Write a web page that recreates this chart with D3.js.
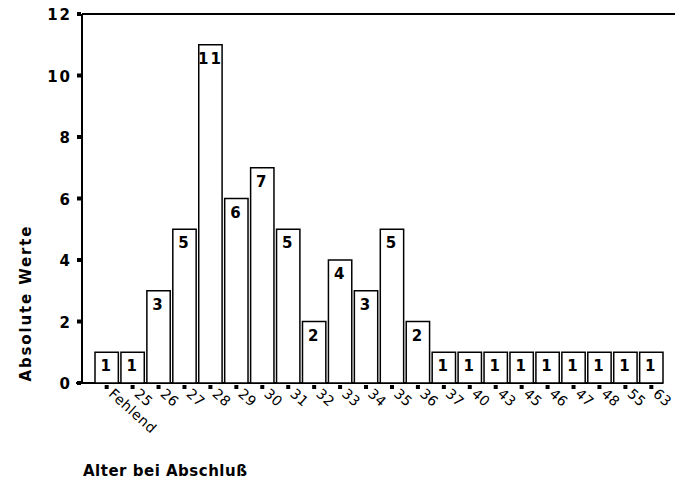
<!DOCTYPE html>
<html><head><meta charset="utf-8">
<script src="https://cdn.jsdelivr.net/npm/d3@7"></script>
<style>body{margin:0;background:#fff}svg text{font-family:"DejaVu Sans",sans-serif}</style>
</head><body><svg id="chart" width="675" height="481"></svg>
<script>
var categories = ["Fehlend","25","26","27","28","29","30","31","32","33","34","35","36","37","40","43","45","46","47","48","55","63"];
var counts = [1,1,3,5,11,6,7,5,2,4,3,5,2,1,1,1,1,1,1,1,1,1];
var yTicks = [0,2,4,6,8,10,12];

var svg = d3.select("#chart");
var plotLeft = 82, plotTop = 14, plotBottom = 383;

var x = d3.scaleBand().domain(categories).range([95, 663]).paddingInner(0.1);
var y = d3.scaleLinear().domain([0,12]).range([plotBottom, plotTop]);

// frame
svg.append("line").attr("x1",plotLeft).attr("x2",plotLeft).attr("y1",plotTop).attr("y2",plotBottom).attr("stroke","#000").attr("stroke-width",2);
svg.append("line").attr("x1",plotLeft).attr("x2",675).attr("y1",plotTop).attr("y2",plotTop).attr("stroke","#000").attr("stroke-width",2);
svg.append("line").attr("x1",76).attr("x2",x.range()[1]).attr("y1",plotBottom).attr("y2",plotBottom).attr("stroke","#000").attr("stroke-width",2);

// y ticks
var yg = svg.append("g");
yg.selectAll("rect").data(yTicks).join("rect")
  .attr("x",77).attr("y",d=>y(d)-2).attr("width",4).attr("height",4).attr("fill","#000");
yg.selectAll("text").data(yTicks).join("text")
  .attr("x",72).attr("y",d=>y(d)+6).attr("text-anchor","end")
  .attr("font-size",15).attr("font-weight","bold").attr("letter-spacing",2)
  .text(d=>d);

// bars
var bars = svg.append("g");
bars.selectAll("rect").data(counts).join("rect")
  .attr("x",(d,i)=>x(categories[i])).attr("y",d=>y(d))
  .attr("width",x.bandwidth()).attr("height",d=>plotBottom-y(d))
  .attr("fill","#fff").attr("stroke","#000").attr("stroke-width",1.5);
bars.selectAll("text").data(counts).join("text")
  .attr("x",(d,i)=>x(categories[i])+x.bandwidth()/2).attr("y",d=>y(d)+19)
  .attr("text-anchor","middle").attr("font-size",15).attr("font-weight","bold").attr("letter-spacing",2)
  .text(d=>d);

// x ticks + labels
var xg = svg.append("g");
xg.selectAll("rect").data(categories).join("rect")
  .attr("x",d=>x(d)+x.bandwidth()/2-2).attr("y",plotBottom+2).attr("width",4).attr("height",4).attr("fill","#000");
xg.selectAll("text").data(categories).join("text")
  .attr("transform",d=>"translate("+(x(d)+x.bandwidth()/2+1)+","+(plotBottom+12)+") rotate(42)")
  .attr("font-size",14).attr("letter-spacing",0.5)
  .text(d=>d);

// axis titles
svg.append("text").attr("transform","translate(31,304) rotate(-90)").attr("text-anchor","middle")
  .attr("font-size",15).attr("font-weight","bold").attr("textLength",155).attr("lengthAdjust","spacing").text("Absolute Werte");
svg.append("text").attr("x",83).attr("y",476)
  .attr("font-size",15).attr("font-weight","bold").attr("textLength",164).attr("lengthAdjust","spacing").text("Alter bei Abschluß");
</script></body></html>
